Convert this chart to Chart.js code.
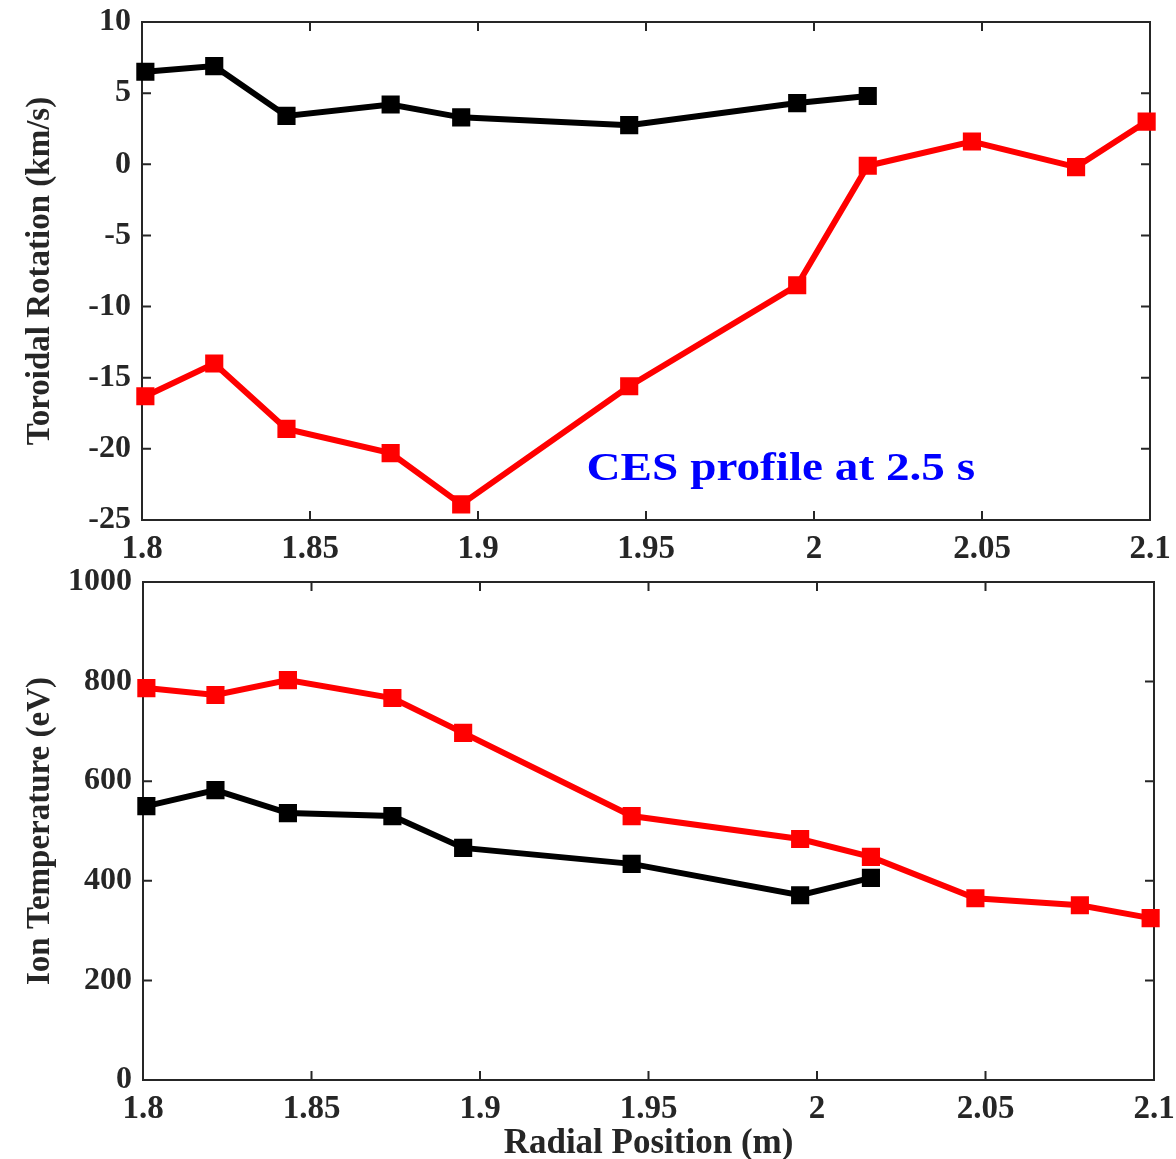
<!DOCTYPE html>
<html>
<head>
<meta charset="utf-8">
<script src="https://cdn.jsdelivr.net/npm/chart.js@4.4.0/dist/chart.umd.min.js"></script>
<style>
  body { margin: 0; background: #fff; }
  #wrap { position: relative; width: 1176px; height: 1159px; overflow: hidden; }
  canvas { position: absolute; left: 0; }
</style>
</head>
<body>
<div id="wrap">
  <canvas id="rotChart" width="1176" height="580" style="top:0"></canvas>
  <canvas id="tempChart" width="1176" height="601" style="top:560px"></canvas>
</div>
<script>
// CES channel radii (m)
const radiusBlack = [1.801, 1.8215, 1.843, 1.874, 1.895, 1.945, 1.995, 2.016];
const radiusRed = [1.801, 1.8215, 1.843, 1.874, 1.895, 1.945, 1.995, 2.016, 2.047, 2.078, 2.099];

// toroidal rotation (km/s)
const rotationBlack = [6.5, 6.9, 3.4, 4.2, 3.3, 2.75, 4.3, 4.8];
const rotationRed = [-16.3, -14.0, -18.6, -20.3, -23.9, -15.6, -8.5, -0.1, 1.6, -0.2, 3.0];

// ion temperature (eV)
const tempBlack = [550, 582, 536, 530, 466, 434, 371, 406];
const tempRed = [787, 773, 803, 767, 697, 530, 484, 448, 365, 351, 325];

const xTicks = [1.8, 1.85, 1.9, 1.95, 2, 2.05, 2.1];
const xTickLabels = ['1.8', '1.85', '1.9', '1.95', '2', '2.05', '2.1'];
const rotationTicks = [-25, -20, -15, -10, -5, 0, 5, 10];
const tempTicks = [0, 200, 400, 600, 800, 1000];

const note = 'CES profile at 2.5 s';
const noteAt = { x: 1.9323, y: -22.2 };

const axisColor = '#262626';
const xTickFont = { family: 'Liberation Serif', size: 33, weight: 'bold' };
const yTickFont = { family: 'Liberation Serif', size: 32, weight: 'bold' };
const xTitleFont = { family: 'Liberation Serif', size: 35, weight: 'bold', lineHeight: 1 };
const yTitleFont = { family: 'Liberation Serif', size: 33, weight: 'bold', lineHeight: 1 };

const toPoints = (xs, ys) => xs.map((x, i) => ({ x: x, y: ys[i] }));

function series(xs, ys, color) {
  return {
    data: toPoints(xs, ys),
    borderColor: color,
    backgroundColor: color,
    borderWidth: 6,
    pointStyle: 'rect',
    pointRadius: 10,
    pointBorderWidth: 4,
    pointBackgroundColor: color,
    pointBorderColor: color,
    clip: false,
  };
}

// full box with inward tick marks on all four sides
const boxFrame = {
  id: 'boxFrame',
  beforeDatasetsDraw(chart) {
    const { ctx, chartArea: a, scales } = chart;
    const len = 9;
    ctx.save();
    ctx.strokeStyle = axisColor;
    ctx.lineWidth = 2;
    ctx.strokeRect(a.left, a.top, a.right - a.left, a.bottom - a.top);
    ctx.beginPath();
    scales.x.ticks.forEach(t => {
      const px = scales.x.getPixelForValue(t.value);
      ctx.moveTo(px, a.bottom); ctx.lineTo(px, a.bottom - len);
      ctx.moveTo(px, a.top); ctx.lineTo(px, a.top + len);
    });
    scales.y.ticks.forEach(t => {
      const py = scales.y.getPixelForValue(t.value);
      ctx.moveTo(a.left, py); ctx.lineTo(a.left + len, py);
      ctx.moveTo(a.right, py); ctx.lineTo(a.right - len, py);
    });
    ctx.stroke();
    ctx.restore();
  }
};

// blue annotation inside the rotation panel
const noteLabel = {
  id: 'noteLabel',
  afterDraw(chart) {
    if (chart.canvas.id !== 'rotChart') return;
    const { ctx, scales } = chart;
    const px = scales.x.getPixelForValue(noteAt.x);
    const py = scales.y.getPixelForValue(noteAt.y);
    ctx.save();
    ctx.translate(px, py);
    ctx.scale(1.18, 1);
    ctx.font = 'bold 40px "Liberation Serif"';
    ctx.fillStyle = '#0000ff';
    ctx.textAlign = 'left';
    ctx.textBaseline = 'alphabetic';
    ctx.fillText(note, 0, 0);
    ctx.restore();
  }
};

function makeChart(id, cfg) {
  return new Chart(document.getElementById(id), {
    type: 'line',
    data: { datasets: cfg.datasets },
    options: {
      responsive: false,
      animation: false,
      devicePixelRatio: 1,
      layout: { padding: cfg.padding },
      plugins: { legend: { display: false }, tooltip: { enabled: false } },
      scales: {
        x: {
          type: 'linear',
          min: 1.8,
          max: 2.1,
          grid: { display: false, drawTicks: false },
          border: { display: false },
          afterBuildTicks: s => { s.ticks = xTicks.map(v => ({ value: v })); },
          afterFit: s => {
            s.height = cfg.xHeight;
            s.paddingLeft = 0;
            s.paddingRight = 0;
          },
          ticks: {
            color: axisColor,
            font: xTickFont,
            padding: 10,
            maxRotation: 0,
            autoSkip: false,
            callback: (v, i) => xTickLabels[i],
          },
          title: {
            display: !!cfg.xTitle,
            text: cfg.xTitle || '',
            color: axisColor,
            font: xTitleFont,
            padding: 0,
          },
        },
        y: {
          min: cfg.yTicks[0],
          max: cfg.yTicks[cfg.yTicks.length - 1],
          grid: { display: false, drawTicks: false },
          border: { display: false },
          afterBuildTicks: s => { s.ticks = cfg.yTicks.map(v => ({ value: v })); },
          afterFit: s => {
            s.width = cfg.yWidth;
            s.paddingTop = 0;
            s.paddingBottom = 0;
          },
          ticks: {
            color: axisColor,
            font: yTickFont,
            padding: 11,
            autoSkip: false,
            callback: v => String(v),
          },
          title: {
            display: true,
            text: cfg.yTitle,
            color: axisColor,
            font: yTitleFont,
            padding: 0,
          },
        },
      },
    },
    plugins: [boxFrame, noteLabel],
  });
}

makeChart('rotChart', {
  datasets: [
    series(radiusBlack, rotationBlack, '#000000'),
    series(radiusRed, rotationRed, '#ff0000'),
  ],
  yTicks: rotationTicks,
  yTitle: 'Toroidal Rotation (km/s)',
  padding: { left: 24, right: 26, top: 22, bottom: 0 },
  yWidth: 118,
  xHeight: 60,
});

makeChart('tempChart', {
  datasets: [
    series(radiusBlack, tempBlack, '#000000'),
    series(radiusRed, tempRed, '#ff0000'),
  ],
  yTicks: tempTicks,
  yTitle: 'Ion Temperature (eV)',
  xTitle: 'Radial Position (m)',
  padding: { left: 24, right: 22, top: 22, bottom: 0 },
  yWidth: 119,
  xHeight: 81,
});
</script>
</body>
</html>
